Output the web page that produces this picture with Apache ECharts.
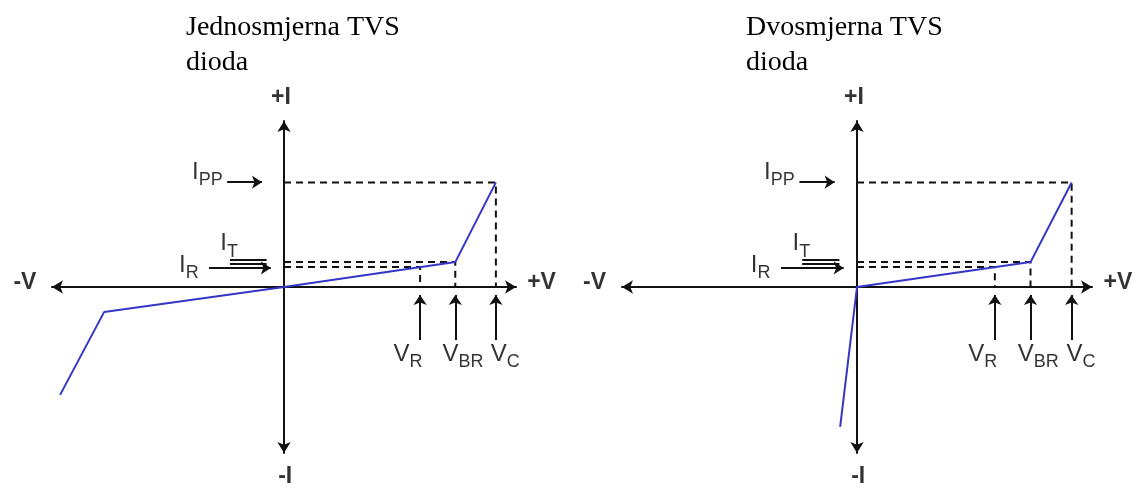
<!DOCTYPE html>
<html>
<head>
<meta charset="utf-8">
<script src="https://cdn.jsdelivr.net/npm/echarts@6/dist/echarts.min.js"></script>
<style>
  html, body { margin: 0; padding: 0; background: #fff; }
  #main { width: 1139px; height: 491px; }
</style>
</head>
<body>
<div id="main"></div>
<script>
// panel titles
const titles = ['Jednosmjerna TVS\ndioda', 'Dvosmjerna TVS\ndioda'];
// V_R, V_BR, V_C on the +V axis
const vLevels = [3.52, 4.43, 5.48];
const vSubs = ['R', 'BR', 'C'];
// I_PP, I_T, I_R on the +I axis
const iLevels = [3.78, 0.90, 0.72];
const iSubs = ['PP', 'T', 'R'];
// I-V curves, [V, I]
const uniCurve = [[-5.79, -3.90], [-4.65, -0.90], [0, 0], [4.43, 0.90], [5.48, 3.78]];
const biCurve = [[-0.43, -5.06], [0, 0], [4.43, 0.90], [5.48, 3.78]];
// where the text sits, [V, I]
const axisNames = [[-6.70, 0.14, '-V'], [6.66, 0.14, '+V'], [-0.08, 6.83, '+I'], [0.03, -6.87, '-I']];
const vLabelPos = [[3.21, -2.42], [4.63, -2.42], [5.72, -2.42]];
const iLabelPos = [[-1.98, 4.14], [-1.42, 1.57], [-2.46, 0.78]];
// small pointer arrows next to the +I axis, [from, to]
const iArrows = [
  [[-1.47, 3.79], [-0.57, 3.79]],
  [[-1.40, 0.98], [-0.45, 0.98]],
  [[-1.40, 0.83], [-0.45, 0.83]],
  [[-1.94, 0.69], [-0.34, 0.69]]
];
// pointer arrows under the +V axis go from iBottom up to iTop
const vArrowSpan = [-1.92, -0.29];

const fontSans = 'Liberation Sans, Arial, sans-serif';
const ink = '#000';
const blue = '#3535c6';

let chartDom = document.getElementById('main');
let mychart = echarts.init(chartDom);

// one panel = grid + both axes + its series
function makeAxis(idx) {
  return {
    type: 'value',
    gridIndex: idx,
    min: -6,
    max: 6,
    axisLine: {
      show: true,
      onZero: true,
      symbol: ['arrow', 'arrow'],
      symbolSize: [10, 11],
      lineStyle: { color: '#111', width: 2 }
    },
    axisTick: { show: false },
    axisLabel: { show: false },
    splitLine: { show: false }
  };
}

function panelSeries(idx, curve) {
  let list = [];
  // dashed guides
  for (let k = 0; k < 3; k++) {
    let i = iLevels[k];
    let v = vLevels[2 - k];
    list.push({
      type: 'line',
      xAxisIndex: idx,
      yAxisIndex: idx,
      data: [[0, i], [v, i], [v, 0]],
      symbol: 'none',
      silent: true,
      z: 2,
      lineStyle: { color: '#111', width: 2, type: [7, 5] }
    });
  }

  // arrows
  let arrows = [];
  iArrows.forEach(function(a, n) {
    arrows.push([
      { coord: a[0], symbol: 'none' },
      { coord: a[1], symbol: (n === 1 || n === 2) ? 'none' : 'arrow' }
    ]);
  });
  vLevels.forEach(function(v) {
    arrows.push([
      { coord: [v, vArrowSpan[0]], symbol: 'none' },
      { coord: [v, vArrowSpan[1]], symbol: 'arrow' }
    ]);
  });

  // I-V curve
  list.push({
    type: 'line',
    xAxisIndex: idx,
    yAxisIndex: idx,
    data: curve,
    symbol: 'none',
    z: 4,
    lineStyle: { color: blue, width: 2 },
    markLine: {
      silent: true,
      symbolSize: 10,
      label: { show: false },
      lineStyle: { color: '#111', width: 2, type: 'solid' },
      data: arrows
    }
  });

  // texts
  let texts = [];
  axisNames.forEach(function(a) {
    texts.push({ value: [a[0], a[1]], name: a[2], label: { fontWeight: 'bold', fontSize: 23 } });
  });
  vLabelPos.forEach(function(p, n) {
    texts.push({ value: p, name: '{m|V}{s|' + vSubs[n] + '}' });
  });
  iLabelPos.forEach(function(p, n) {
    texts.push({ value: p, name: '{m|I}{s|' + iSubs[n] + '}' });
  });
  list.push({
    type: 'scatter',
    xAxisIndex: idx,
    yAxisIndex: idx,
    symbolSize: 0,
    clip: false,
    silent: true,
    data: texts,
    label: {
      show: true,
      position: 'inside',
      color: ink,
      fontFamily: fontSans,
      formatter: function(p) { return p.name; },
      rich: {
        m: { fontSize: 24, lineHeight: 24, fontFamily: fontSans, color: ink, verticalAlign: 'top' },
        s: { fontSize: 18, lineHeight: 18, fontFamily: fontSans, color: ink, verticalAlign: 'top', padding: [11, 0, 0, 0] }
      }
    }
  });
  return list;
}

let titleStyle = {
  fontFamily: 'Liberation Serif, Times New Roman, serif',
  fontWeight: 'normal',
  fontSize: 28,
  lineHeight: 35,
  color: ink
};

let option = {
  animation: false,
  backgroundColor: '#fff',
  title: [
    { text: titles[0], left: 186, top: 10, padding: 0, textStyle: titleStyle },
    { text: titles[1], left: 746, top: 10, padding: 0, textStyle: titleStyle }
  ],
  grid: [
    { left: 52, width: 464, top: 121, height: 332 },
    { left: 622, width: 470, top: 121, height: 332 }
  ],
  xAxis: [makeAxis(0), makeAxis(1)],
  yAxis: [makeAxis(0), makeAxis(1)],
  series: panelSeries(0, uniCurve).concat(panelSeries(1, biCurve))
};

option && mychart.setOption(option);
</script>
</body>
</html>
